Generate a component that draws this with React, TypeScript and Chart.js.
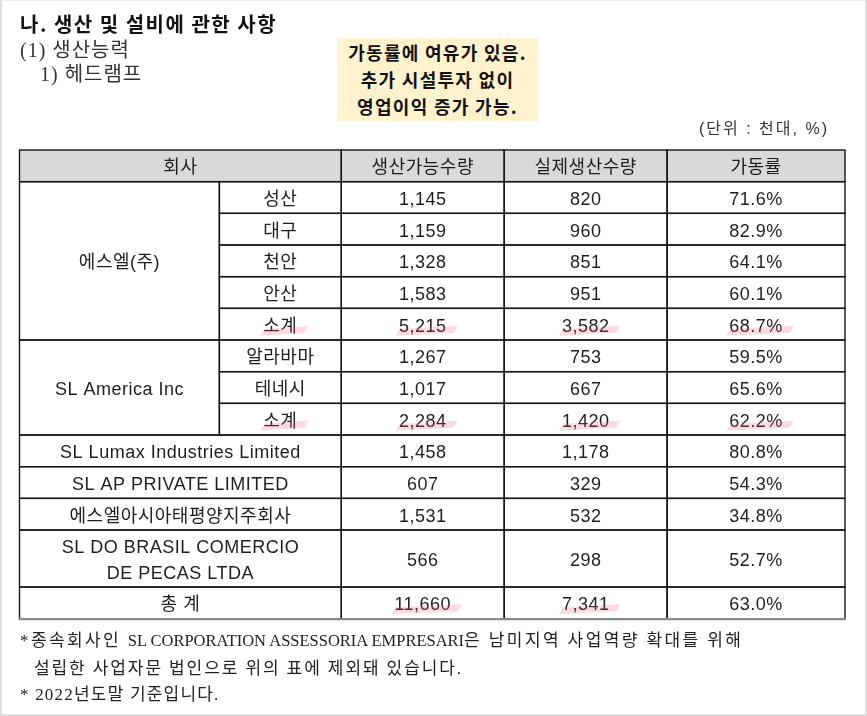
import React, { useEffect, useRef } from "react";
import { Chart, registerables } from "chart.js";

Chart.register(...registerables);

// ---- data ----
const headers = ["회사", "생산가능수량", "실제생산수량", "가동률"];
const rowCompany = [
  "에스엘(주)", "에스엘(주)", "에스엘(주)", "에스엘(주)", "에스엘(주)",
  "SL America Inc", "SL America Inc", "SL America Inc",
  "SL Lumax Industries Limited",
  "SL AP PRIVATE LIMITED",
  "에스엘아시아태평양지주회사",
  "SL DO BRASIL COMERCIO\nDE PECAS LTDA",
  "총 계",
];
const rowSite = ["성산", "대구", "천안", "안산", "소계", "알라바마", "테네시", "소계", "", "", "", "", ""];
const capacity = [1145, 1159, 1328, 1583, 5215, 1267, 1017, 2284, 1458, 607, 1531, 566, 11660];
const actual = [820, 960, 851, 951, 3582, 753, 667, 1420, 1178, 329, 532, 298, 7341];
const utilization = [71.6, 82.9, 64.1, 60.1, 68.7, 59.5, 65.6, 62.2, 80.8, 54.3, 34.8, 52.7, 63.0];
const totalLabel = "총 계";
const subtotalLabel = "소계";

// ---- layout (not data) ----
const colWidths = [200, 122, 163, 163, 178];
const TOTAL_W = colWidths.reduce((a, b) => a + b, 0);
const colEdges = colWidths.reduce((acc, w) => { acc.push(acc[acc.length - 1] + w); return acc; }, [0] as number[]);
const EXTRA_LINE = 0.8;

const TABLE_FONT = '18px "Liberation Sans", "Noto Sans CJK KR", sans-serif';

type Cell = { c0: number; c1: number; r0: number; r1: number; lines: string[]; bg?: string; hl?: boolean };

function buildCells() {
  const cells: Cell[] = [];
  const rowTop: number[] = [];
  const rowBot: number[] = [];
  let yy = 1;
  for (let i = 0; i < rowCompany.length; i++) {
    const n = rowCompany[i].split("\n").length;
    rowTop.push(yy);
    yy += 1 + EXTRA_LINE * (n - 1);
    rowBot.push(yy);
  }
  const totalUnits = yy;
  cells.push({ c0: 0, c1: 2, r0: 0, r1: 1, lines: [headers[0]], bg: "#D9D9D9" });
  for (let k = 1; k < headers.length; k++) cells.push({ c0: k + 1, c1: k + 2, r0: 0, r1: 1, lines: [headers[k]], bg: "#D9D9D9" });
  let i = 0;
  while (i < rowCompany.length) {
    let j = i;
    while (j + 1 < rowCompany.length && rowCompany[j + 1] === rowCompany[i]) j++;
    const hasSite = rowSite[i] !== "";
    cells.push({ c0: 0, c1: hasSite ? 1 : 2, r0: rowTop[i], r1: rowBot[j], lines: rowCompany[i].split("\n") });
    i = j + 1;
  }
  for (let r = 0; r < rowCompany.length; r++) {
    const isSub = rowSite[r] === subtotalLabel;
    const isTotal = rowCompany[r] === totalLabel;
    if (rowSite[r] !== "") cells.push({ c0: 1, c1: 2, r0: rowTop[r], r1: rowBot[r], lines: [rowSite[r]], hl: isSub });
    cells.push({ c0: 2, c1: 3, r0: rowTop[r], r1: rowBot[r], lines: [capacity[r].toLocaleString("en-US")], hl: isSub || isTotal });
    cells.push({ c0: 3, c1: 4, r0: rowTop[r], r1: rowBot[r], lines: [actual[r].toLocaleString("en-US")], hl: isSub || isTotal });
    cells.push({ c0: 4, c1: 5, r0: rowTop[r], r1: rowBot[r], lines: [utilization[r].toFixed(1) + "%"], hl: isSub });
  }
  return { cells, totalUnits };
}

const { cells, totalUnits } = buildCells();

const tablePlugin = {
  id: "tablePlugin",
  afterDraw(chart: any) {
    const { ctx } = chart;
    const xs = chart.scales.x;
    const ys = chart.scales.y;
    const px = (c: number) => xs.getPixelForValue(colEdges[c]);
    const py = (v: number) => ys.getPixelForValue(v);
    ctx.save();
    cells.forEach((c) => {
      if (!c.bg) return;
      ctx.fillStyle = c.bg;
      ctx.fillRect(px(c.c0), py(c.r0), px(c.c1) - px(c.c0), py(c.r1) - py(c.r0));
    });
    ctx.font = TABLE_FONT;
    (ctx as any).letterSpacing = "0.5px";
    ctx.textAlign = "center";
    ctx.textBaseline = "alphabetic";
    cells.forEach((c) => {
      const cx = (px(c.c0) + px(c.c1)) / 2;
      const cy = (py(c.r0) + py(c.r1)) / 2;
      const n = c.lines.length;
      c.lines.forEach((t, k) => {
        const base = cy + 7.5 + (k - (n - 1) / 2) * 26;
        ctx.fillStyle = "#1e1e1e";
        ctx.fillText(t, cx, base);
        if (c.hl) {
          const w = ctx.measureText(t).width;
          const l = cx - w / 2 - 3;
          const r = cx + w / 2 + 9;
          ctx.fillStyle = "rgba(238, 90, 120, 0.22)";
          ctx.beginPath();
          ctx.moveTo(l, base + 4);
          ctx.lineTo(l + 4, base - 3);
          ctx.lineTo(r + 2, base - 6);
          ctx.lineTo(r - 2, base + 1);
          ctx.closePath();
          ctx.fill();
        }
      });
    });
    (ctx as any).letterSpacing = "0px";
    ctx.strokeStyle = "#151515";
    ctx.lineWidth = 1.4;
    cells.forEach((c) => {
      ctx.strokeRect(px(c.c0), py(c.r0), px(c.c1) - px(c.c0), py(c.r1) - py(c.r0));
    });
    ctx.strokeStyle = "#8a8a8a";
    ctx.lineWidth = 2.2;
    ctx.beginPath();
    ctx.moveTo(px(0) - 0.7, py(totalUnits) + 0.4);
    ctx.lineTo(px(5) + 0.7, py(totalUnits) + 0.4);
    ctx.stroke();
    ctx.restore();
  },
};

export default function App() {
  const ref = useRef<HTMLCanvasElement>(null);
  useEffect(() => {
    if (!ref.current) return;
    const chart = new Chart(ref.current, {
      type: "scatter",
      data: { datasets: [] },
      options: {
        animation: false,
        responsive: false,
        events: [],
        layout: { padding: { left: 19.5, right: 22, top: 150, bottom: 97.3 } },
        scales: {
          x: { type: "linear", min: 0, max: TOTAL_W, display: false },
          y: { type: "linear", min: 0, max: totalUnits, reverse: true, display: false },
        },
        plugins: { legend: { display: false }, tooltip: { enabled: false } },
      },
      plugins: [tablePlugin],
    } as any);
    return () => chart.destroy();
  }, []);

  const serif = '"Liberation Serif", "Noto Sans CJK KR", serif';
  const sans = '"Liberation Sans", "Noto Sans CJK KR", sans-serif';
  const abs = (o: any) => ({ position: "absolute" as const, whiteSpace: "pre" as const, margin: 0, ...o });
  const latin = { letterSpacing: 0, fontSize: 16.5 };

  return (
    <div style={{ position: "absolute", left: 0, top: 0, width: 867, height: 716, background: "#fff", overflow: "hidden" }}>
      <canvas ref={ref} width={867} height={716} style={{ position: "absolute", left: 0, top: 0 }} />
      <div style={abs({ left: 20, top: 14, fontFamily: '"Noto Sans CJK KR", sans-serif', fontWeight: 700, fontSize: 20, lineHeight: "20px", letterSpacing: 1.5, color: "#111" })}>
        나. 생산 및 설비에 관한 사항
      </div>
      <div style={abs({ left: 20, top: 40, fontFamily: serif, fontSize: 20, lineHeight: "20px", letterSpacing: 1, color: "#333" })}>(1) 생산능력</div>
      <div style={abs({ left: 40, top: 64, fontFamily: serif, fontSize: 20, lineHeight: "20px", letterSpacing: 1, color: "#333" })}>1) 헤드램프</div>
      <div
        style={abs({
          left: 337, top: 38, width: 201, height: 83, boxSizing: "border-box", paddingTop: 1,
          background: "#FFF2CC", textAlign: "center", fontFamily: '"Noto Sans CJK KR", sans-serif',
          fontWeight: 700, fontSize: 18, lineHeight: "27px", letterSpacing: 1.3, color: "#111",
        })}
      >
        {"가동률에 여유가 있음.\n추가 시설투자 없이\n영업이익 증가 가능."}
      </div>
      <div style={abs({ right: 38, top: 121, fontFamily: sans, fontSize: 16, lineHeight: "16px", letterSpacing: 2, color: "#333" })}>
        (단위 : 천대, %)
      </div>
      <div style={abs({ left: 20, top: 631, fontFamily: serif, fontSize: 17, lineHeight: "20px", letterSpacing: 2.4, color: "#222" })}>
        *종속회사인 <span style={latin}>SL CORPORATION ASSESSORIA EMPRESARI</span>은 남미지역 사업역량 확대를 위해
      </div>
      <div style={abs({ left: 34, top: 659, fontFamily: serif, fontSize: 17, lineHeight: "20px", letterSpacing: 1.9, color: "#222" })}>
        설립한 사업자문 법인으로 위의 표에 제외돼 있습니다.
      </div>
      <div style={abs({ left: 20, top: 685, fontFamily: serif, fontSize: 17, lineHeight: "20px", letterSpacing: 1.2, color: "#222" })}>
        * 2022년도말 기준입니다.
      </div>
      <div
        style={{
          position: "absolute", left: 0, top: 0, width: 867, height: 716, boxSizing: "border-box",
          borderLeft: "2px solid #dedede", borderRight: "2px solid #dedede", borderBottom: "2px solid #dedede",
          borderTop: "1px solid #ececec", pointerEvents: "none",
        }}
      />
    </div>
  );
}
